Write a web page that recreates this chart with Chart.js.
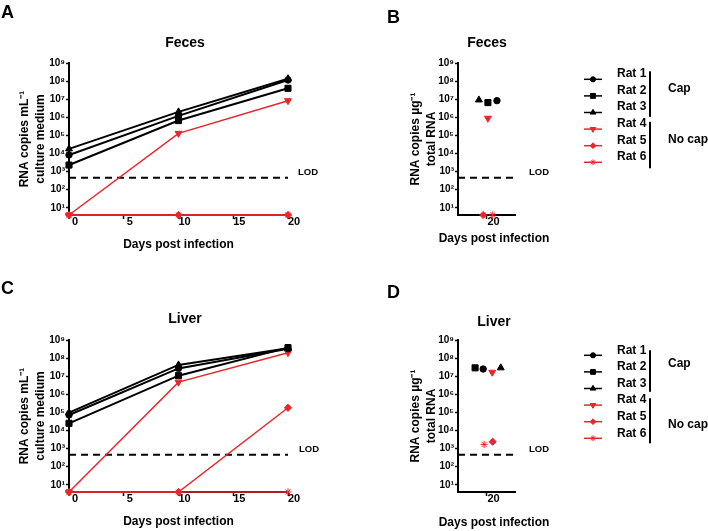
<!DOCTYPE html>
<html><head><meta charset="utf-8">
<script src="https://cdn.jsdelivr.net/npm/chart.js@4.4.1/dist/chart.umd.min.js"></script>
<style>
html,body{margin:0;padding:0;background:#fff;}
#wrap{position:relative;width:708px;height:531px;overflow:hidden;background:#fff;}
#wrap canvas{position:absolute;left:0;top:0;}
</style></head><body>
<div id="wrap">
<canvas id="cA" width="708" height="531"></canvas>
<canvas id="cB" width="708" height="531"></canvas>
<canvas id="cC" width="708" height="531"></canvas>
<canvas id="cD" width="708" height="531"></canvas>
</div>
<script>
// ---------------- DATA ----------------
const ratNames = ['Rat 1', 'Rat 2', 'Rat 3', 'Rat 4', 'Rat 5', 'Rat 6'];
const groupLabels = ['Cap', 'No cap'];
const daysSampled = [0, 10, 20];
const dayTicks = [0, 5, 10, 15, 20];
const dayTickLabels = ['0', '5', '10', '15', '20'];
const singleDayTicks = [20];
const singleDayTickLabels = ['20'];
const yTickValues = [1e1, 1e2, 1e3, 1e4, 1e5, 1e6, 1e7, 1e8, 1e9];
const yTickLabels = ['10¹', '10²', '10³', '10⁴', '10⁵', '10⁶', '10⁷', '10⁸', '10⁹'];
const xAxisTitle = 'Days post infection';
const LOD = 450;          // limit of detection
const UND = 4;            // undetected samples, plotted on the x axis

// Panel A – Feces, RNA copies per mL culture medium (days 0, 10, 20)
const fecesMediumRat1 = [8.3e3, 1.2e6, 1.15e8];
const fecesMediumRat2 = [2.3e3, 6.6e5, 4.0e7];
const fecesMediumRat3 = [1.8e4, 2.0e6, 1.35e8];
const fecesMediumRat4 = [UND, 1.3e5, 8.3e6];
const fecesMediumRat5 = [UND, UND, UND];
const fecesMediumRat6 = [UND, UND, UND];

// Panel B – Feces, RNA copies per µg total RNA (day 20), Rat 1..6
const fecesTotalRna = [8.3e6, 6.5e6, 9.1e6, 8.9e5, UND, UND];
const fecesTotalJitter = [21.1, 20.15, 19.2, 20.15, 19.65, 20.65];

// Panel C – Liver, RNA copies per mL culture medium (days 0, 10, 20)
const liverMediumRat1 = [7.2e4, 2.7e7, 3.3e8];
const liverMediumRat2 = [2.5e4, 1.07e7, 3.8e8];
const liverMediumRat3 = [9.8e4, 4.2e7, 3.5e8];
const liverMediumRat4 = [UND, 4.7e6, 2.0e8];
const liverMediumRat5 = [UND, UND, 1.8e5];
const liverMediumRat6 = [UND, UND, UND];

// Panel D – Liver, RNA copies per µg total RNA (day 20), Rat 1..6
const liverTotalRna = [2.5e7, 2.9e7, 2.9e7, 1.65e7, 2.4e3, 1.7e3];
const liverTotalJitter = [19.65, 18.8, 21.5, 20.6, 20.65, 19.75];

// ---------------- STYLES ----------------
const FONT = '"Liberation Sans", Arial, Helvetica, sans-serif';
Chart.defaults.font.family = FONT;
Chart.defaults.color = '#000';
const RED = '#e8262b', BLK = '#000000';
const ratStyles = [
  {color: BLK, pointStyle: 'circle',   radius: 3.2, rotation: 0,   width: 2},
  {color: BLK, pointStyle: 'rect',     radius: 4.3, rotation: 0,   width: 2},
  {color: BLK, pointStyle: 'triangle', radius: 4.0, rotation: 0,   width: 2},
  {color: RED, pointStyle: 'triangle', radius: 4.0, rotation: 180, width: 1.5},
  {color: RED, pointStyle: 'rectRot',  radius: 3.6, rotation: 0,   width: 1.5},
  {color: RED, pointStyle: 'star',     radius: 3.6, rotation: 0,   width: 1.5}
];

// ---------------- DECORATION PLUGIN ----------------
const decor = {
  id: 'decor',
  afterDraw(chart, args, o) {
    const ctx = chart.ctx;
    ctx.save();
    ctx.fillStyle = '#000';
    ctx.textAlign = 'left';
    ctx.textBaseline = 'alphabetic';
    ctx.font = 'bold 18px ' + FONT;
    ctx.fillText(o.letter, o.letterX, o.letterY);
    ctx.textAlign = 'center';
    ctx.font = 'bold 14px ' + FONT;
    ctx.fillText(o.title, o.titleX, o.titleY);
    if (o.xTitleY) {
      ctx.textBaseline = 'middle';
      ctx.font = 'bold 12px ' + FONT;
      ctx.fillText(xAxisTitle, o.xTitleX, o.xTitleY);
    }
    const yL = chart.scales.y.getPixelForValue(LOD);
    ctx.textAlign = 'left';
    ctx.textBaseline = 'middle';
    ctx.font = 'bold 9.5px ' + FONT;
    ctx.fillText('LOD', chart.chartArea.right + o.lodDx, yL - 5.5);
    const L = o.legend;
    if (L) {
      for (let i = 0; i < ratNames.length; i++) {
        const ds = chart.data.datasets[i];
        const y = L.y0 + i * L.step;
        ctx.strokeStyle = ds.borderColor;
        ctx.lineWidth = 1.5;
        ctx.beginPath(); ctx.moveTo(L.x0, y); ctx.lineTo(L.x0 + 18, y); ctx.stroke();
        ctx.fillStyle = ds.pointBackgroundColor;
        ctx.strokeStyle = ds.pointBorderColor;
        ctx.lineWidth = 1;
        if (Chart.helpers && Chart.helpers.drawPoint) {
          Chart.helpers.drawPoint(ctx, {pointStyle: ds.pointStyle, radius: ds.pointRadius * 0.8,
            rotation: ds.pointRotation || 0, borderWidth: 1}, L.x0 + 9, y);
        }
        ctx.fillStyle = '#000';
        ctx.font = 'bold 12px ' + FONT;
        ctx.textAlign = 'left';
        ctx.textBaseline = 'middle';
        ctx.fillText(ratNames[i], L.textX, y + L.textDy);
      }
      ctx.fillStyle = '#000';
      ctx.fillRect(L.barX - 1, L.y0 + L.capTop, 2, L.capBottom - L.capTop);
      ctx.fillRect(L.barX - 1, L.y0 + L.noCapTop, 2, L.noCapBottom - L.noCapTop);
      ctx.font = 'bold 12px ' + FONT;
      ctx.textBaseline = 'middle';
      ctx.fillText(groupLabels[0], L.groupX, L.capTextY);
      ctx.fillText(groupLabels[1], L.groupX, L.noCapTextY);
    }
    ctx.restore();
  }
};

// ---------------- BUILDERS ----------------
function ratDataset(i, points, showLine) {
  const s = ratStyles[i];
  return {
    label: ratNames[i], data: points, showLine: showLine,
    borderColor: s.color, backgroundColor: s.color, borderWidth: s.width,
    pointStyle: s.pointStyle, pointRadius: s.radius, pointRotation: s.rotation,
    pointBackgroundColor: s.color, pointBorderColor: s.color, pointBorderWidth: 1,
    pointHoverRadius: s.radius, tension: 0, clip: false
  };
}
function lodDataset(xFrom, xTo) {
  return {label: 'LOD', data: [{x: xFrom, y: LOD}, {x: xTo, y: LOD}], showLine: true,
    borderColor: '#000', borderWidth: 2, borderDash: [7, 5], pointRadius: 0, clip: false};
}
function yScale(cfg) {
  return {
    type: 'logarithmic', min: UND, max: 1e9, bounds: 'data',
    afterBuildTicks: s => { s.ticks = yTickValues.map(v => ({value: v})); },
    afterFit: s => { s.width = cfg.width; },
    ticks: {callback: (v, i) => yTickLabels[i], font: {size: 10, weight: 'bold'}, color: '#000',
      padding: 1, autoSkip: false},
    grid: {drawOnChartArea: false, drawTicks: true, tickLength: 3, tickWidth: 1.5, tickColor: '#000'},
    border: {display: true, color: '#000', width: 2},
    title: {display: true, text: cfg.title, color: '#000',
      font: {size: 12, weight: 'bold', lineHeight: '16px'}, padding: {top: cfg.titlePad, bottom: 0}}
  };
}
function xScale(cfg) {
  return {
    type: 'linear', min: cfg.min, max: cfg.max, bounds: 'data',
    afterBuildTicks: s => { s.ticks = cfg.ticks.map(v => ({value: v})); },
    afterFit: s => { s.height = cfg.height; },
    ticks: {callback: (v, i) => cfg.labels[i], font: {size: 11, weight: 'bold'}, color: '#000',
      padding: -4, labelOffset: cfg.labelOffset, maxRotation: 0, autoSkip: false},
    grid: {drawOnChartArea: false, drawTicks: true, tickLength: 4, tickWidth: 1.5, tickColor: '#000'},
    border: {display: true, color: '#000', width: 2},
    title: {display: cfg.showTitle, text: xAxisTitle, color: '#000',
      font: {size: 12, weight: 'bold', lineHeight: '16px'}, padding: {top: 0, bottom: cfg.titlePad}}
  };
}
function baseOptions(padding, scales, decorOpts) {
  return {
    responsive: false, animation: false, events: [],
    layout: {padding: padding},
    plugins: {legend: {display: false}, title: {display: false}, tooltip: {enabled: false}, decor: decorOpts},
    scales: scales
  };
}
function timeSeries(values) { return values.map((v, k) => ({x: daysSampled[k], y: v})); }

const mediumTitle = ['RNA copies mL⁻¹', 'culture medium'];
const totalTitle = ['RNA copies µg⁻¹', 'total RNA'];

// ---------------- PANEL A ----------------
const fecesMedium = [fecesMediumRat1, fecesMediumRat2, fecesMediumRat3, fecesMediumRat4, fecesMediumRat5, fecesMediumRat6];
new Chart(document.getElementById('cA'), {
  type: 'line',
  data: {datasets: fecesMedium.map((vals, i) => ratDataset(i, timeSeries(vals), true)).concat([lodDataset(0, 20)])},
  options: baseOptions({left: 0, top: 63, right: 420, bottom: 276}, {
    x: xScale({min: 0, max: 20, ticks: dayTicks, labels: dayTickLabels, height: 40, titlePad: 2, labelOffset: 6, showTitle: true}),
    y: yScale({width: 69, title: mediumTitle, titlePad: 17})
  }, {letter: 'A', letterX: 1, letterY: 18, title: 'Feces', titleX: 185, titleY: 47, lodDx: 10}),
  plugins: [decor]
});

// ---------------- PANEL B ----------------
new Chart(document.getElementById('cB'), {
  type: 'scatter',
  data: {datasets: fecesTotalRna.map((v, i) => ratDataset(i, [{x: fecesTotalJitter[i], y: v}], false)).concat([lodDataset(17, 23)])},
  options: baseOptions({left: 390, top: 63, right: 193, bottom: 276}, {
    x: xScale({min: 17, max: 23, ticks: singleDayTicks, labels: singleDayTickLabels, height: 40, titlePad: 8, labelOffset: 7, showTitle: false}),
    y: yScale({width: 68, title: totalTitle, titlePad: 18})
  }, {letter: 'B', letterX: 387, letterY: 23, title: 'Feces', titleX: 487, titleY: 47, lodDx: 14,
      xTitleX: 494, xTitleY: 239,
      legend: {x0: 584, textX: 617, y0: 79.3, step: 16.6, textDy: -5.5, barX: 650,
        capTop: -8, capBottom: 37.5, noCapTop: 42.5, noCapBottom: 89,
        groupX: 668, capTextY: 88.3, noCapTextY: 140}}),
  plugins: [decor]
});

// ---------------- PANEL C ----------------
const liverMedium = [liverMediumRat1, liverMediumRat2, liverMediumRat3, liverMediumRat4, liverMediumRat5, liverMediumRat6];
new Chart(document.getElementById('cC'), {
  type: 'line',
  data: {datasets: liverMedium.map((vals, i) => ratDataset(i, timeSeries(vals), true)).concat([lodDataset(0, 20)])},
  options: baseOptions({left: 0, top: 340, right: 420, bottom: 1}, {
    x: xScale({min: 0, max: 20, ticks: dayTicks, labels: dayTickLabels, height: 38, titlePad: 0, labelOffset: 6, showTitle: true}),
    y: yScale({width: 69, title: mediumTitle, titlePad: 17})
  }, {letter: 'C', letterX: 1, letterY: 294, title: 'Liver', titleX: 185, titleY: 323, lodDx: 11}),
  plugins: [decor]
});

// ---------------- PANEL D ----------------
new Chart(document.getElementById('cD'), {
  type: 'scatter',
  data: {datasets: liverTotalRna.map((v, i) => ratDataset(i, [{x: liverTotalJitter[i], y: v}], false)).concat([lodDataset(17, 23)])},
  options: baseOptions({left: 390, top: 340, right: 193, bottom: 1}, {
    x: xScale({min: 17, max: 23, ticks: singleDayTicks, labels: singleDayTickLabels, height: 38, titlePad: 0, labelOffset: 7, showTitle: false}),
    y: yScale({width: 68, title: totalTitle, titlePad: 18})
  }, {letter: 'D', letterX: 387, letterY: 298, title: 'Liver', titleX: 494, titleY: 326, lodDx: 14,
      xTitleX: 494, xTitleY: 523,
      legend: {x0: 584, textX: 617, y0: 355.3, step: 16.6, textDy: -5, barX: 650,
        capTop: -5, capBottom: 36.5, noCapTop: 43, noCapBottom: 88,
        groupX: 668, capTextY: 364, noCapTextY: 425}}),
  plugins: [decor]
});
</script>
</body></html>
